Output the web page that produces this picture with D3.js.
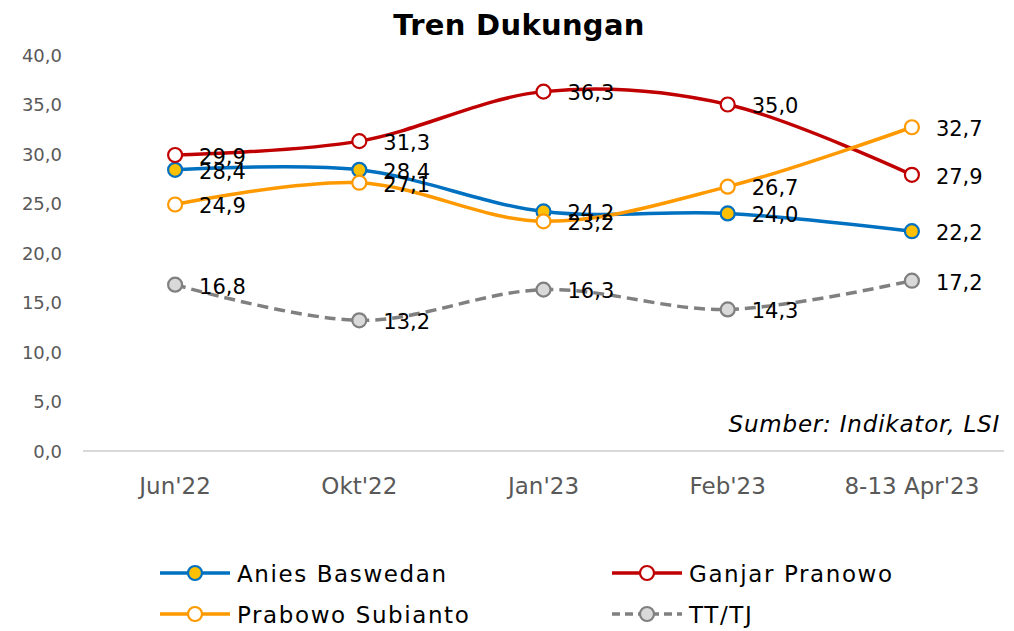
<!DOCTYPE html>
<html>
<head>
<meta charset="utf-8">
<script src="https://cdn.jsdelivr.net/npm/d3@7"></script>
<style>
  body { margin: 0; background: #fff; }
  text { font-family: "DejaVu Sans", sans-serif; }
</style>
</head>
<body>
<svg id="chart" width="1014" height="631"></svg>
<script>
var categories = ["Jun'22", "Okt'22", "Jan'23", "Feb'23", "8-13 Apr'23"];
var anies = [28.4, 28.4, 24.2, 24.0, 22.2];
var ganjar = [29.9, 31.3, 36.3, 35.0, 27.9];
var prabowo = [24.9, 27.1, 23.2, 26.7, 32.7];
var tttj = [16.8, 13.2, 16.3, 14.3, 17.2];
var yTicks = [0, 5, 10, 15, 20, 25, 30, 35, 40];

var series = [
    {name: "Anies Baswedan", values: anies, line: "#0070C0", fill: "#FFC000", mstroke: "#0070C0", dash: null},
    {name: "Ganjar Pranowo", values: ganjar, line: "#C00000", fill: "#FFFFFF", mstroke: "#C00000", dash: null},
    {name: "Prabowo Subianto", values: prabowo, line: "#FF9900", fill: "#FFFFFF", mstroke: "#FF9900", dash: null},
    {name: "TT/TJ", values: tttj, line: "#808080", fill: "#D9D9D9", mstroke: "#808080", dash: "11,6"}
];

var svg = d3.select("#chart");

var xScale = d3.scaleBand()
    .domain(categories)
    .range([83, 1004]);

var yScale = d3.scaleLinear()
    .domain([0, 40])
    .range([451, 55]);

function fmt(v) { return d3.format(".1f")(v).replace(".", ","); }
function cx(i) { return xScale(categories[i]) + xScale.bandwidth() / 2; }

// title
svg.append("text")
    .attr("x", 519).attr("y", 35)
    .attr("text-anchor", "middle")
    .style("font-size", "29px").style("font-weight", "bold")
    .style("letter-spacing", "0.3px")
    .attr("fill", "#000")
    .text("Tren Dukungan");

// y axis labels
svg.append("g").selectAll("text")
    .data(yTicks)
    .enter().append("text")
    .attr("x", 62)
    .attr("y", function (d) { return yScale(d); })
    .attr("dy", "0.38em")
    .attr("text-anchor", "end")
    .style("font-size", "18px")
    .attr("fill", "#595959")
    .text(function (d) { return fmt(d); });

// baseline
svg.append("line")
    .attr("x1", 83).attr("x2", 1004)
    .attr("y1", yScale(0)).attr("y2", yScale(0))
    .attr("stroke", "#D9D9D9").attr("stroke-width", 2);

// x axis labels
svg.append("g").selectAll("text")
    .data(categories)
    .enter().append("text")
    .attr("x", function (d) { return xScale(d) + xScale.bandwidth() / 2; })
    .attr("y", 494)
    .attr("text-anchor", "middle")
    .style("font-size", "23px")
    .attr("fill", "#595959")
    .text(function (d) { return d; });

// source
svg.append("text")
    .attr("x", 1000).attr("y", 432)
    .attr("text-anchor", "end")
    .style("font-size", "23px").style("font-style", "italic")
    .style("letter-spacing", "0.8px")
    .attr("fill", "#000")
    .text("Sumber: Indikator, LSI");

var line = d3.line()
    .x(function (d, i) { return cx(i); })
    .y(function (d) { return yScale(d); })
    .curve(d3.curveCatmullRom.alpha(0));

series.forEach(function (s) {
    var g = svg.append("g");
    g.append("path")
        .datum(s.values)
        .attr("d", line)
        .attr("fill", "none")
        .attr("stroke", s.line)
        .attr("stroke-width", 3.5)
        .attr("stroke-dasharray", s.dash);
    g.selectAll("circle")
        .data(s.values)
        .enter().append("circle")
        .attr("cx", function (d, i) { return cx(i); })
        .attr("cy", function (d) { return yScale(d); })
        .attr("r", 7)
        .attr("fill", s.fill)
        .attr("stroke", s.mstroke)
        .attr("stroke-width", 2.2);
});

// data labels on top
series.forEach(function (s) {
    svg.append("g").selectAll("text")
        .data(s.values)
        .enter().append("text")
        .attr("x", function (d, i) { return cx(i) + 24; })
        .attr("y", function (d) { return yScale(d); })
        .attr("dy", "0.42em")
        .style("font-size", "21px")
        .attr("fill", "#000")
        .text(function (d) { return fmt(d); });
});

// legend
var legendPos = [[160, 573], [612, 573], [160, 614], [612, 614]];
series.forEach(function (s, i) {
    var p = legendPos[i];
    var g = svg.append("g").attr("transform", "translate(" + p[0] + "," + p[1] + ")");
    g.append("line")
        .attr("x1", 0).attr("x2", 70)
        .attr("y1", 0).attr("y2", 0)
        .attr("stroke", s.line).attr("stroke-width", 3.5)
        .attr("stroke-dasharray", s.dash ? "8,5" : null);
    g.append("circle")
        .attr("cx", 35).attr("cy", 0).attr("r", 7)
        .attr("fill", s.fill).attr("stroke", s.mstroke).attr("stroke-width", 2.2);
    g.append("text")
        .attr("x", 77).attr("y", 0).attr("dy", "0.37em")
        .style("font-size", "23px")
        .style("letter-spacing", "1.6px")
        .attr("fill", "#000")
        .text(s.name);
});
</script>
</body>
</html>
